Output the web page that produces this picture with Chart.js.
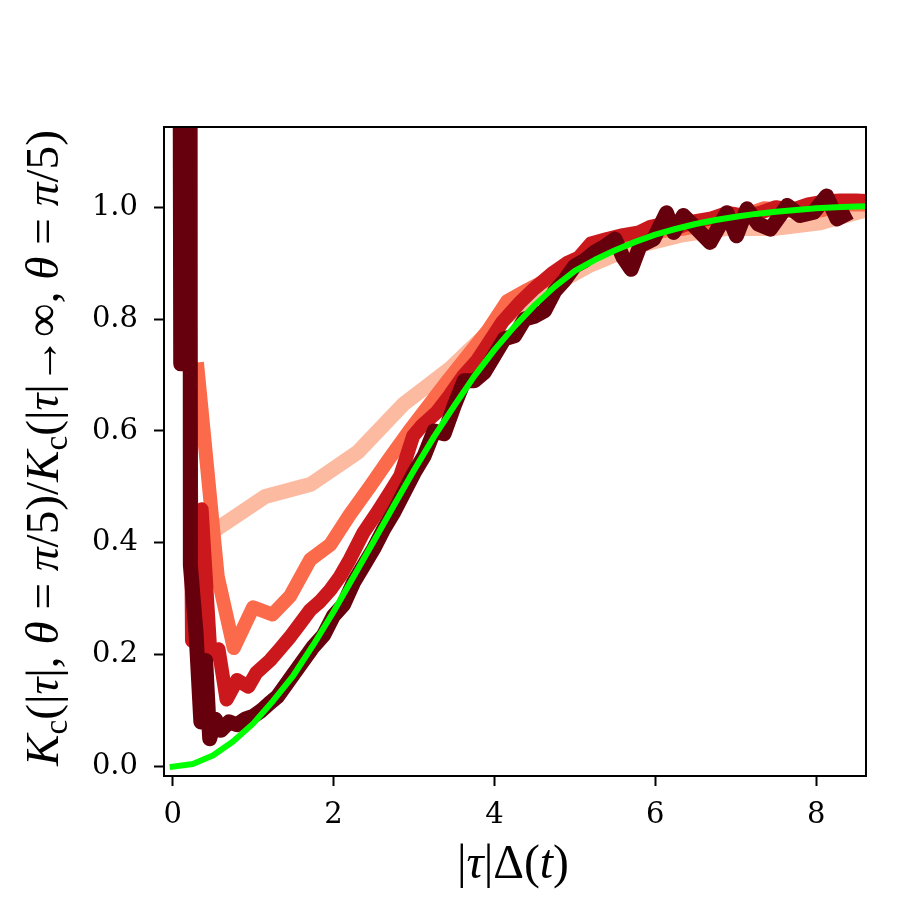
<!DOCTYPE html>
<html>
<head>
<meta charset="utf-8">
<script src="https://cdn.jsdelivr.net/npm/chart.js@4.4.1/dist/chart.umd.min.js"></script>
<style>
  html, body { margin: 0; padding: 0; background: #fff; }
  #wrap { width: 913px; height: 913px; }
</style>
</head>
<body>
<div id="wrap"><canvas id="c" width="913" height="913"></canvas></div>
<script>
// ---------- data ----------
const greenX = [0,0.25,0.5,0.75,1.0,1.25,1.5,1.75,2.0,2.25,2.5,2.75,3.0,3.25,3.5,3.75,4.0,4.25,4.5,4.75,5.0,5.25,5.5,5.75,6.0,6.25,6.5,6.75,7.0,7.25,7.5,7.75,8.0,8.25,8.5,8.75];
const greenY = [0.000,0.005,0.020,0.045,0.077,0.118,0.163,0.218,0.277,0.340,0.403,0.467,0.530,0.590,0.645,0.698,0.745,0.787,0.825,0.858,0.886,0.906,0.923,0.938,0.951,0.961,0.970,0.977,0.983,0.988,0.992,0.995,0.998,1.000,1.001,1.002];

const lightX = [0.55,1.15,1.72,2.3,2.87,3.45,4.02,4.6,5.17,5.75,6.32,6.9,7.47,8.05,8.62];
const lightY = [0.425,0.483,0.505,0.562,0.648,0.712,0.79,0.85,0.895,0.93,0.95,0.962,0.962,0.972,0.995];

const orangeX = [0.31,0.56,0.76,1.0,1.24,1.46,1.71,1.96,2.2,2.45,2.69,2.94,3.18,3.43,3.67,3.92,4.16,4.41,4.65,4.9,5.14,5.39,5.63,5.88,6.12,6.37,6.61,6.86,7.1,7.35,7.59,7.84,8.08,8.33,8.57];
const orangeY = [0.71,0.34,0.212,0.285,0.272,0.305,0.37,0.397,0.45,0.50,0.55,0.60,0.645,0.692,0.735,0.78,0.832,0.852,0.87,0.895,0.91,0.925,0.94,0.95,0.958,0.962,0.968,0.975,0.985,0.998,0.995,0.99,0.995,1.005,1.005];

const redX = [0.12,0.24,0.36,0.47,0.57,0.67,0.8,0.94,1.04,1.21,1.33,1.46,1.58,1.71,1.83,1.96,2.08,2.2,2.37,2.54,2.7,2.83,2.99,3.1,3.28,3.45,3.61,3.78,3.95,4.1,4.32,4.5,4.73,4.9,5.05,5.2,5.4,5.6,5.8,5.94,6.1,6.3,6.5,6.7,6.9,7.1,7.3,7.5,7.7,7.9,8.1,8.3,8.5,8.7];
const redY = [3.0,0.225,0.46,0.2,0.21,0.12,0.155,0.143,0.168,0.19,0.21,0.232,0.255,0.28,0.295,0.316,0.34,0.37,0.418,0.454,0.49,0.52,0.591,0.61,0.633,0.665,0.698,0.725,0.762,0.795,0.83,0.855,0.883,0.9,0.91,0.935,0.943,0.95,0.955,0.965,0.97,0.965,0.975,0.98,0.99,0.985,0.99,1.0,0.995,1.005,1.01,1.012,1.012,1.01];

const darkX = [0.0,0.1,0.19,0.22,0.29,0.35,0.41,0.46,0.53,0.6,0.7,0.8,0.9,1.0,1.1,1.2,1.3,1.4,1.5,1.625,1.75,1.875,2.0,2.125,2.25,2.375,2.5,2.625,2.75,2.875,3.0,3.125,3.25,3.375,3.5,3.625,3.75,3.875,4.0,4.125,4.25,4.375,4.5,4.625,4.75,4.875,5.0,5.125,5.25,5.375,5.5,5.6,5.7,5.81,5.98,6.14,6.23,6.35,6.52,6.68,6.89,7.01,7.14,7.28,7.43,7.64,7.8,7.97,8.13,8.26,8.34];
const darkY = [8.0,0.72,8.0,0.36,0.24,0.08,0.19,0.05,0.085,0.065,0.08,0.075,0.085,0.09,0.1,0.113,0.125,0.145,0.165,0.19,0.215,0.235,0.27,0.29,0.33,0.36,0.39,0.425,0.455,0.49,0.525,0.555,0.60,0.595,0.645,0.69,0.69,0.705,0.735,0.765,0.77,0.80,0.805,0.815,0.85,0.87,0.895,0.905,0.92,0.93,0.943,0.91,0.889,0.931,0.943,0.99,0.955,0.985,0.961,0.937,0.99,0.949,0.997,0.97,0.961,1.003,0.985,0.991,1.02,0.979,0.985];

const xTicks = [0, 2, 4, 6, 8];
const yTicks = [0.0, 0.2, 0.4, 0.6, 0.8, 1.0];

// axis titles as rich-text pieces (i = italic, s = subscript)
const xTitle = [['|',''],['τ','i'],['|Δ(',''],['t','i'],[')','']];
const yTitle = [['K','i'],['c','s'],['(|',''],['τ','i'],['|, ',''],['θ','i'],[' = ',''],['π','i'],['/5)/',''],
                ['K','i'],['c','s'],['(|',''],['τ','i'],['|→∞, ',''],['θ','i'],[' = ',''],['π','i'],['/5)','']];

// ---------- helpers ----------
function pts(xs, ys) { return xs.map((x, i) => ({ x: x, y: ys[i] })); }

const MATHFONT = '"Liberation Serif", "DejaVu Serif", serif';
function pieceFont(p, size) {
  const sz = p[1] === 's' ? size * 0.7 : size;
  return (p[1] === 'i' ? 'italic ' : '') + sz + 'px ' + MATHFONT;
}
function drawRich(ctx, pieces, cx, cy, rot, size, targetW) {
  ctx.save();
  let w = 0;
  pieces.forEach(p => { ctx.font = pieceFont(p, size); w += ctx.measureText(p[0]).width; });
  if (targetW) { size = size * targetW / w; w = 0;
    pieces.forEach(p => { ctx.font = pieceFont(p, size); w += ctx.measureText(p[0]).width; }); }
  ctx.translate(cx, cy);
  ctx.rotate(rot);
  ctx.fillStyle = '#000';
  ctx.textBaseline = 'alphabetic';
  let x = -w / 2;
  const base = size * 0.33;
  pieces.forEach(p => {
    ctx.font = pieceFont(p, size);
    ctx.fillText(p[0], x, base + (p[1] === 's' ? size * 0.2 : 0));
    x += ctx.measureText(p[0]).width;
  });
  ctx.restore();
}

const framePlugin = {
  id: 'frame',
  afterDraw(chart) {
    const ctx = chart.ctx, a = chart.chartArea;
    ctx.save();
    ctx.strokeStyle = '#000';
    ctx.lineWidth = 2;
    ctx.strokeRect(a.left, a.top, a.right - a.left, a.bottom - a.top);
    ctx.restore();
    drawRich(ctx, xTitle, 513, 862, 0, 32, 112);
    drawRich(ctx, yTitle, 42, 448, -Math.PI / 2, 32, 636);
  }
};

function ds(label, xs, ys, color, width, order) {
  return {
    label: label, data: pts(xs, ys), borderColor: color, backgroundColor: color,
    borderWidth: width, showLine: true, pointRadius: 0, fill: false, tension: 0,
    borderCapStyle: 'square', borderJoinStyle: 'round', clip: 0, order: order
  };
}

new Chart(document.getElementById('c'), {
  type: 'scatter',
  data: {
    datasets: [
      ds('light', lightX, lightY, '#fcbba1', 15, 5),
      ds('orange', orangeX, orangeY, '#fb6a4a', 14, 4),
      ds('red', redX, redY, '#cb181d', 14, 3),
      ds('dark', darkX, darkY, '#67000d', 15, 2),
      ds('green', greenX, greenY, '#00ff00', 6, 1)
    ]
  },
  options: {
    responsive: false,
    animation: false,
    devicePixelRatio: 1,
    layout: { padding: { top: 127, right: 47, bottom: 0, left: 0 } },
    plugins: { legend: { display: false }, tooltip: { enabled: false } },
    scales: {
      x: {
        type: 'linear', min: -0.108, max: 8.62,
        afterFit: s => { s.height = 137; },
        afterBuildTicks: s => { s.ticks = xTicks.map(v => ({ value: v })); },
        grid: { drawOnChartArea: false, drawTicks: true, tickLength: 10, tickWidth: 2, tickColor: '#000' },
        border: { display: false },
        ticks: { color: '#000', padding: 12, font: { family: '"DejaVu Serif"', size: 29 }, maxRotation: 0,
                 callback: v => String(v) }
      },
      y: {
        type: 'linear', min: -0.0166, max: 1.1433,
        afterFit: s => { s.width = 164; },
        afterBuildTicks: s => { s.ticks = yTicks.map(v => ({ value: v })); },
        grid: { drawOnChartArea: false, drawTicks: true, tickLength: 10, tickWidth: 2, tickColor: '#000' },
        border: { display: false },
        ticks: { color: '#000', padding: 16, font: { family: '"DejaVu Serif"', size: 29 },
                 callback: v => Number(v).toFixed(1) }
      }
    }
  },
  plugins: [framePlugin]
});
</script>
</body>
</html>
